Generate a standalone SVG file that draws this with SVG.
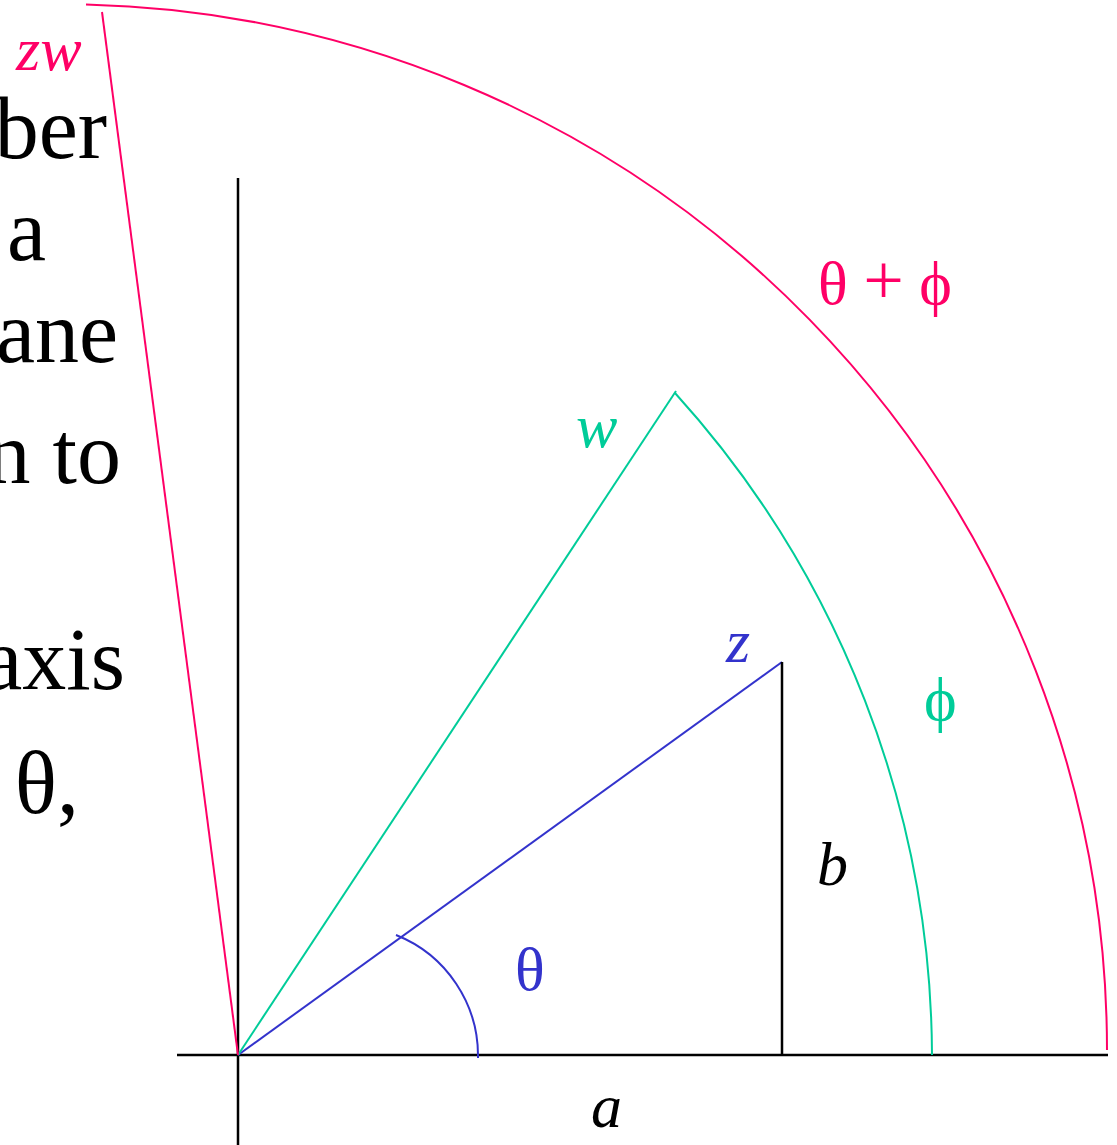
<svg xmlns="http://www.w3.org/2000/svg" width="1117" height="1145" viewBox="0 0 1117 1145">
<style>
.body{font-family:"Liberation Serif","Times New Roman",serif;font-size:88px;fill:#000}
.lab{font-family:"Liberation Serif","Times New Roman",serif;font-size:62px}
.it{font-style:italic}
.red{stroke:#ff0066;fill:none;stroke-width:2}
.grn{stroke:#00cc99;fill:none;stroke-width:2}
.blu{stroke:#3333cc;fill:none;stroke-width:2}
.blk{stroke:#000;fill:none;stroke-width:2.5}
</style>
<rect width="1117" height="1145" fill="#fff"/>
<g id="text-fragment">
<text class="body" x="107" y="158" text-anchor="end">ber</text>
<text class="body" x="46" y="260" text-anchor="end">a</text>
<text class="body" x="118" y="362" text-anchor="end">ane</text>
<text class="body" x="121" y="483" text-anchor="end">n to</text>
<text class="body" x="125" y="689" text-anchor="end">axis</text>
<text class="body" x="79" y="813" text-anchor="end">θ,</text>
</g>
<g id="connectors">
<line id="x-axis" class="blk" x1="177" y1="1055" x2="1108" y2="1055"/>
<line id="y-axis" class="blk" x1="238" y1="178" x2="238" y2="1145"/>
<line id="z-vector" class="blu" x1="238" y1="1055" x2="782" y2="662"/>
<line id="b-leg" class="blk" x1="782" y1="662" x2="782" y2="1055"/>
<line id="w-vector" class="grn" x1="238" y1="1055" x2="676" y2="391"/>
<line id="zw-vector" class="red" x1="238" y1="1055" x2="102" y2="12"/>
<path id="theta-arc" class="blu" d="M 396 935 A 130 130 0 0 1 478 1058"/>
<path id="phi-arc" class="grn" d="M 675 393 A 992 992 0 0 1 932 1055"/>
<path id="thetaphi-arc" class="red" d="M 86 4.5 A 1046 1046 0 0 1 1107 1050"/>
</g>
<g id="labels">
<text class="lab it" x="16" y="70" fill="#ff0066">zw</text>
<text class="lab it" x="576" y="447" fill="#00cc99">w</text>
<text class="lab it" x="726" y="662" fill="#3333cc">z</text>
<text class="lab" x="818" y="304" fill="#ff0066">θ <tspan font-size="72">+</tspan> ϕ</text>
<text class="lab" x="924" y="720" fill="#00cc99">ϕ</text>
<text class="lab it" x="817" y="885" fill="#000">b</text>
<text class="lab" x="515" y="990" fill="#3333cc">θ</text>
<text class="lab it" x="591" y="1127" fill="#000">a</text>
</g>
</svg>
